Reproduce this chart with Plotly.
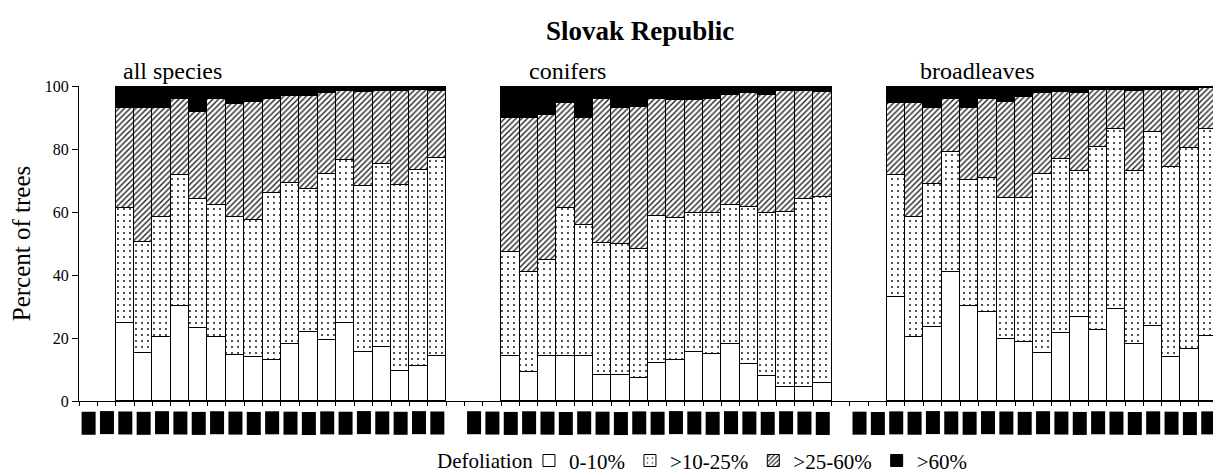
import plotly.graph_objects as go

groups = ["all species", "conifers", "broadleaves"]
years = list(range(1985, 2005))          # 20 slots per group
data_years = list(range(1987, 2005))     # 18 years with data
classes = ["0-10%", ">10-25%", ">25-60%", ">60%"]

# percent of trees per defoliation class, per group, 1987..2004
all_c0 = [24.9,15.1,20.3,30.2,23.3,20.3,14.6,13.9,13.0,18.1,22.0,19.4,24.9,15.7,17.2,9.6,11.2,14.4]
all_c1 = [36.5,35.5,38.2,41.4,40.7,41.9,43.9,43.6,53.1,51.0,45.4,52.7,51.5,52.6,57.9,59.1,62.1,62.8]
all_c2 = [31.5,42.3,34.4,24.3,27.6,33.7,35.7,37.3,29.8,27.7,29.4,25.6,22.0,29.7,23.3,29.7,25.5,21.2]
all_c3 = [7.1,7.1,7.1,4.1,8.4,4.1,5.8,5.2,4.1,3.2,3.2,2.3,1.6,2.0,1.6,1.6,1.2,1.6]

con_c0 = [14.3,9.2,14.3,14.3,14.3,8.4,8.4,7.4,12.2,13.0,15.7,14.8,18.2,11.7,8.0,4.6,4.6,5.8]
con_c1 = [32.9,31.6,30.4,47.1,41.5,41.8,41.3,40.7,46.5,45.0,43.9,45.0,44.0,49.8,51.8,55.5,59.4,59.1]
con_c2 = [42.6,49.0,46.1,33.2,34.0,45.7,43.2,45.2,37.2,37.4,35.8,36.1,34.9,36.2,37.3,38.3,34.4,33.1]
con_c3 = [10.2,10.2,9.2,5.4,10.2,4.1,7.1,6.7,4.1,4.6,4.6,4.1,2.9,2.3,2.9,1.6,1.6,2.0]

brd_c0 = [33.1,20.4,23.4,40.8,30.2,28.1,19.6,18.6,15.1,21.5,26.8,22.5,29.3,18.1,23.8,14.1,16.6,20.7]
brd_c1 = [38.5,38.1,45.4,38.2,40.0,42.8,45.0,46.0,57.1,55.4,46.2,58.2,56.9,54.9,61.6,60.1,63.6,65.5]
brd_c2 = [23.1,36.2,24.1,16.9,22.7,25.0,30.4,31.8,25.5,21.1,24.7,18.1,12.6,25.4,13.4,24.6,18.6,13.2]
brd_c3 = [5.3,5.3,7.1,4.1,7.1,4.1,5.0,3.6,2.3,2.0,2.3,1.2,1.2,1.6,1.2,1.2,1.2,0.6]

group_values = [
    [all_c0, all_c1, all_c2, all_c3],
    [con_c0, con_c1, con_c2, con_c3],
    [brd_c0, brd_c1, brd_c2, brd_c3],
]

FONT = "Liberation Serif, Times New Roman, serif"
slots_per_group = len(years) + 1  # one blank separator slot between groups

def slot_x(g, year):
    return g * slots_per_group + years.index(year)

styles = [
    dict(color="white", pattern=None),
    dict(color="white", pattern=dict(shape=".", size=6, solidity=0.07, fgcolor="black", bgcolor="white", fillmode="replace")),
    dict(color="white", pattern=dict(shape="/", size=4, solidity=0.35, fgcolor="#222222", bgcolor="white", fillmode="replace")),
    dict(color="black", pattern=None),
]

fig = go.Figure()
for k, cls in enumerate(classes):
    xs, ys = [], []
    for g in range(len(groups)):
        for yr, v in zip(data_years, group_values[g][k]):
            xs.append(slot_x(g, yr))
            ys.append(v)
    marker = dict(color=styles[k]["color"], line=dict(color="black", width=1))
    if styles[k]["pattern"]:
        marker["pattern"] = styles[k]["pattern"]
    fig.add_trace(go.Bar(x=xs, y=ys, name=cls, marker=marker))

n_slots = slots_per_group * len(groups) - 1

annotations = []
# group labels
label_pos = [1.8, 23.9, 45.2]
for g, name in enumerate(groups):
    annotations.append(dict(x=label_pos[g], y=100, xref="x", yref="y", text=name,
                            showarrow=False, xanchor="left", yanchor="bottom",
                            font=dict(family=FONT, size=24, color="black")))
# year labels rendered as black boxes
for g in range(len(groups)):
    for yr in years:
        annotations.append(dict(x=slot_x(g, yr), y=-0.032, xref="x", yref="paper",
                                text=str(yr), textangle=-90, showarrow=False,
                                xanchor="center", yanchor="top", bgcolor="black",
                                borderpad=1, font=dict(family=FONT, size=10, color="black")))
# legend caption
annotations.append(dict(x=0.4007, y=-0.19, xref="paper", yref="paper", text="Defoliation",
                        showarrow=False, xanchor="right", yanchor="middle",
                        font=dict(family=FONT, size=21, color="black")))

fig.update_layout(
    barmode="stack", bargap=0,
    width=1213, height=468,
    margin=dict(l=71, r=4, t=78, b=75, autoexpand=False),
    plot_bgcolor="white", paper_bgcolor="white",
    font=dict(family=FONT, color="black"),
    title=dict(text="<b>Slovak Republic</b>", x=0.493, xref="paper", y=0.951, yref="container",
               xanchor="center", yanchor="middle", font=dict(family=FONT, size=27, color="black")),
    xaxis=dict(range=[-0.5, n_slots - 0.5], showgrid=False, zeroline=False, showline=True,
               linecolor="black", linewidth=1, tickmode="array", automargin=False,
               tickvals=[i - 0.5 for i in range(n_slots + 1)], ticks="outside", ticklen=4,
               tickcolor="black", showticklabels=False),
    yaxis=dict(range=[0, 100], showgrid=False, zeroline=False, showline=True, linecolor="black",
               linewidth=1, tickvals=[0, 20, 40, 60, 80, 100], ticks="outside", ticklen=6,
               automargin=False,
               tickcolor="black", tickfont=dict(family=FONT, size=16, color="black"),
               title=dict(text="Percent of trees", standoff=8, font=dict(family=FONT, size=25, color="black"))),
    legend=dict(orientation="h", x=0.3954, xanchor="left", y=-0.19, yanchor="middle",
                font=dict(family=FONT, size=21, color="black"), traceorder="normal"),
    annotations=annotations,
)

fig.write_html("out.html")
